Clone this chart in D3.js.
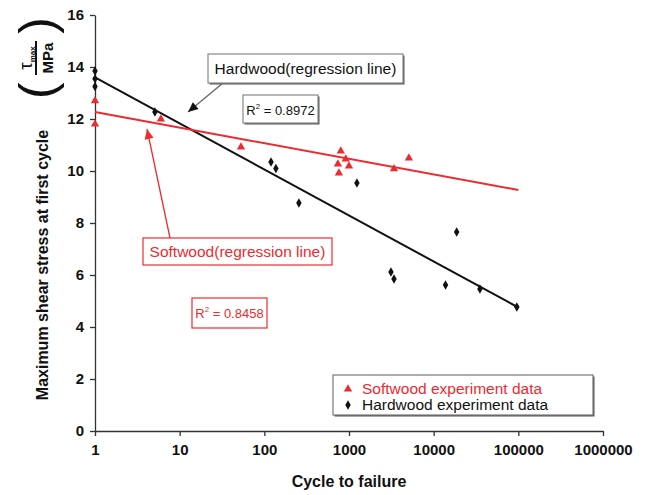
<!DOCTYPE html>
<html>
<head>
<meta charset="utf-8">
<script src="https://cdn.jsdelivr.net/npm/d3@7"></script>
<style>
  html, body { margin: 0; padding: 0; background: #fff; }
  svg { display: block; }
  text { font-family: "Liberation Sans", Arial, sans-serif; }
</style>
</head>
<body>
<svg id="chart" width="647" height="495"></svg>
<script>
// Fatigue data: maximum shear stress at first cycle vs. cycles to failure
const softwoodCycles = [1, 1, 6, 53, 740, 760, 800, 915, 1000, 3400, 5100];
const softwoodStress = [12.7, 11.8, 12.0, 10.92, 10.27, 9.92, 10.77, 10.46, 10.19, 10.08, 10.5];

const hardwoodCycles = [1, 1, 1, 5.1, 120, 137, 256, 1240, 3130, 3400, 13800, 18700, 35200, 96000];
const hardwoodStress = [13.85, 13.55, 13.25, 12.27, 10.35, 10.1, 8.77, 9.54, 6.12, 5.85, 5.62, 7.65, 5.46, 4.77];

// Regression lines: stress = intercept + slope * log10(cycles)
const softwoodFit = { intercept: 12.27, slope: -0.6, from: 1, to: 1e5, r2: "0.8458" };
const hardwoodFit = { intercept: 13.6, slope: -1.77, from: 1, to: 1e5, r2: "0.8972" };

const xTicks = [1, 10, 100, 1000, 10000, 100000, 1000000];
const yTicks = [0, 2, 4, 6, 8, 10, 12, 14, 16];

const RED = "#ee2a2f";
const svg = d3.select("#chart");

const x = d3.scaleLog().domain([1, 1e6]).range([95, 603]);
const y = d3.scaleLinear().domain([0, 16]).range([431, 15]);

// Axes
const yAxis = svg.append("g")
  .attr("transform", `translate(${x(1)},0)`)
  .call(d3.axisLeft(y).tickValues(yTicks).tickSize(5).tickSizeOuter(0).tickPadding(6));
const xAxis = svg.append("g")
  .attr("transform", `translate(0,${y(0)})`)
  .call(d3.axisBottom(x).tickValues(xTicks).tickFormat(d3.format("d")).tickSize(5).tickSizeOuter(0).tickPadding(8));
[yAxis, xAxis].forEach(g => {
  g.selectAll("path, line").attr("stroke", "#333").attr("stroke-width", 1.3);
  g.selectAll("text").attr("font-size", 15).attr("font-weight", "bold")
    .attr("fill", "#111").attr("font-family", "'Liberation Sans', Arial, sans-serif");
});

// Axis titles
svg.append("text")
  .attr("x", x(1000)).attr("y", 487)
  .attr("text-anchor", "middle")
  .attr("font-size", 16).attr("font-weight", "bold").attr("fill", "#111")
  .text("Cycle to failure");

svg.append("text")
  .attr("transform", "translate(48,265) rotate(-90)")
  .attr("text-anchor", "middle")
  .attr("font-size", 16).attr("font-weight", "bold").attr("fill", "#111")
  .text("Maximum shear stress at first cycle");

// Unit group: (tau_max / MPa), rotated with the title
const unit = svg.append("g").attr("transform", "translate(40,58) rotate(-90)");
unit.append("text").attr("x", -41).attr("y", 14)
  .attr("font-size", 50).attr("fill", "#111").text("(");
unit.append("text").attr("x", 41).attr("y", 14).attr("text-anchor", "end")
  .attr("font-size", 50).attr("fill", "#111").text(")");
const num = unit.append("text").attr("x", 0).attr("y", -8)
  .attr("text-anchor", "middle").attr("font-size", 19).attr("fill", "#111");
num.append("tspan").text("τ");
num.append("tspan").attr("font-size", 8).attr("font-weight", "bold").attr("dy", 3).text("max");
unit.append("line").attr("x1", -17).attr("x2", 17).attr("y1", -4).attr("y2", -4)
  .attr("stroke", "#111").attr("stroke-width", 2);
unit.append("text").attr("x", 0).attr("y", 13)
  .attr("text-anchor", "middle").attr("font-size", 15).attr("font-weight", "bold")
  .attr("fill", "#111").text("MPa");

// Regression lines
function fitLine(fit, color) {
  const pts = [fit.from, fit.to].map(c => [c, fit.intercept + fit.slope * Math.log10(c)]);
  svg.append("path")
    .attr("d", d3.line().x(d => x(d[0])).y(d => y(d[1]))(pts))
    .attr("stroke", color).attr("stroke-width", 2).attr("fill", "none");
}
fitLine(hardwoodFit, "#111");
fitLine(softwoodFit, RED);

// Data points
const tri = d3.symbol().type(d3.symbolTriangle).size(30);
const dia = d3.symbol().type(d3.symbolDiamond).size(26);
svg.append("g").selectAll("path")
  .data(hardwoodCycles.map((c, i) => [c, hardwoodStress[i]]))
  .join("path")
  .attr("transform", d => `translate(${x(d[0])},${y(d[1])})`)
  .attr("d", dia).attr("fill", "#111");
svg.append("g").selectAll("path")
  .data(softwoodCycles.map((c, i) => [c, softwoodStress[i]]))
  .join("path")
  .attr("transform", d => `translate(${x(d[0])},${y(d[1])})`)
  .attr("d", tri).attr("fill", RED);

// Annotation callouts
function arrow(x1, y1, x2, y2, lineColor, headColor) {
  svg.append("line").attr("x1", x1).attr("y1", y1).attr("x2", x2).attr("y2", y2)
    .attr("stroke", lineColor).attr("stroke-width", 1.3);
  const ang = Math.atan2(y2 - y1, x2 - x1) * 180 / Math.PI;
  svg.append("path")
    .attr("transform", `translate(${x2},${y2}) rotate(${ang})`)
    .attr("d", "M0,0 L-10,-4.5 L-10,4.5 Z").attr("fill", headColor);
}
function box(x0, y0, w, h, stroke, shadow) {
  if (shadow) {
    svg.append("rect").attr("x", x0 + 1.5).attr("y", y0 + 1.5).attr("width", w).attr("height", h)
      .attr("fill", "#555");
  }
  svg.append("rect").attr("x", x0).attr("y", y0).attr("width", w).attr("height", h)
    .attr("fill", "#fff").attr("stroke", stroke).attr("stroke-width", 1.2);
}
function r2Label(cx, by, value, color, size) {
  const t = svg.append("text").attr("x", cx).attr("y", by).attr("text-anchor", "middle")
    .attr("font-size", size).attr("fill", color);
  t.append("tspan").text("R");
  t.append("tspan").attr("font-size", size * 0.6).attr("dy", -6).text("2");
  t.append("tspan").attr("dy", 6).text(" = " + value);
}

arrow(223, 83, 188, 112, "#666", "#111");
box(208, 54, 195, 29, "#888", true);
svg.append("text").attr("x", 305.5).attr("y", 74).attr("text-anchor", "middle")
  .attr("font-size", 15.5).attr("fill", "#111").text("Hardwood(regression line)");
box(243, 95, 75, 28, "#888", true);
r2Label(280.5, 115, hardwoodFit.r2, "#111", 13);

arrow(170, 238, 147, 129, RED, RED);
box(143, 238, 189, 27, RED, false);
svg.append("text").attr("x", 237.5).attr("y", 257).attr("text-anchor", "middle")
  .attr("font-size", 15.5).attr("fill", RED).text("Softwood(regression line)");
box(192, 298, 75, 30, RED, false);
r2Label(229.5, 318, softwoodFit.r2, RED, 13);

// Legend
box(333, 375, 260, 40, "#777", true);
const legend = [
  { label: "Softwood experiment data", color: RED, sym: tri, dy: 0 },
  { label: "Hardwood experiment data", color: "#111", sym: dia, dy: 16 }
];
legend.forEach(l => {
  svg.append("path").attr("transform", `translate(348,${389 + l.dy})`)
    .attr("d", l.sym).attr("fill", l.color);
  svg.append("text").attr("x", 362).attr("y", 394 + l.dy)
    .attr("font-size", 15.5).attr("fill", l.color).text(l.label);
});
</script>
</body>
</html>
